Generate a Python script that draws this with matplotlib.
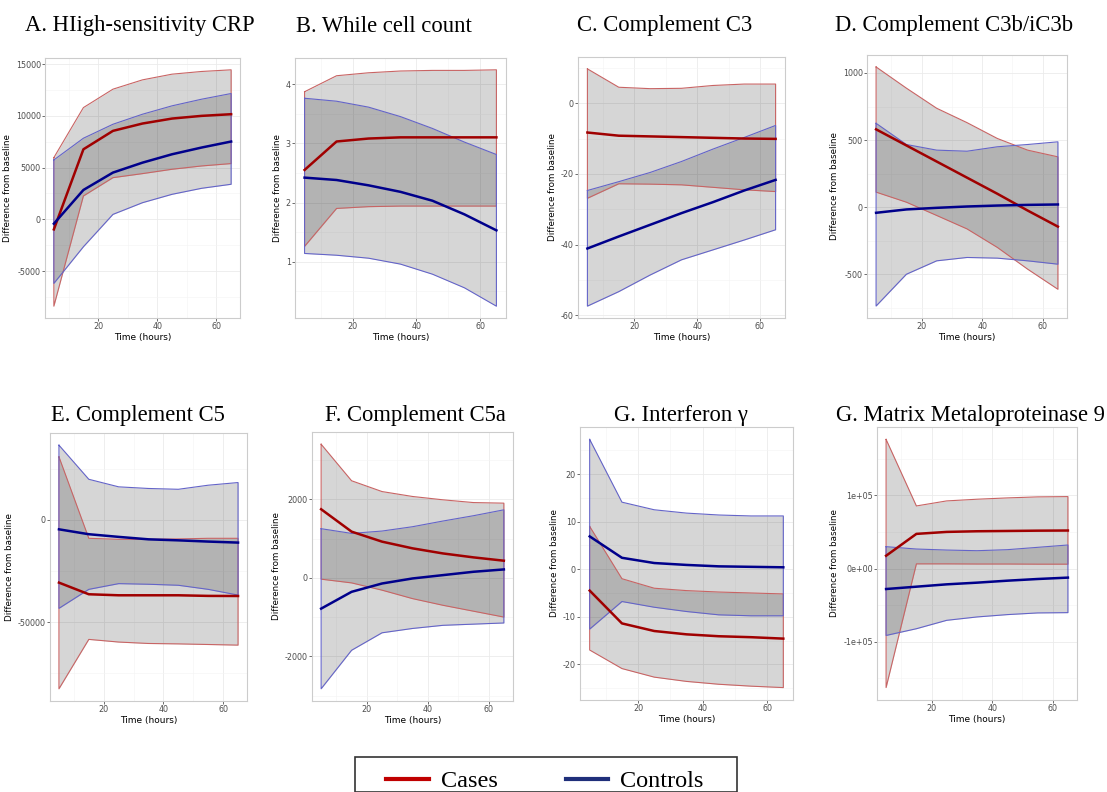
import numpy as np
import matplotlib
matplotlib.use('Agg')
import matplotlib.pyplot as plt
from matplotlib.lines import Line2D
from matplotlib.patches import Rectangle

# time points (hours)
hours = [5, 15, 25, 35, 45, 55, 65]

titles = ['A. HIigh-sensitivity CRP', 'B. While cell count', 'C. Complement C3',
          'D. Complement C3b/iC3b', 'E. Complement C5', 'F. Complement C5a',
          'G. Interferon \u03b3', 'G. Matrix Metaloproteinase 9']

# cases: mean, lower, upper
cases_mean = [
    [-970, 6770, 8550, 9260, 9740, 10000, 10160],
    [2.55, 3.03, 3.08, 3.10, 3.10, 3.10, 3.10],
    [-8.3, -9.2, -9.4, -9.6, -9.8, -10.0, -10.1],
    [580, 460, 340, 220, 100, -25, -145],
    [-30700, -36400, -36900, -36900, -36900, -37200, -37250],
    [1745, 1175, 920, 750, 620, 520, 435],
    [-4.5, -11.4, -13.0, -13.7, -14.1, -14.3, -14.6],
    [17500, 47400, 50100, 51000, 51400, 51800, 52000],
]
cases_low = [
    [-8390, 2260, 4030, 4420, 4840, 5160, 5390],
    [1.26, 1.90, 1.93, 1.94, 1.94, 1.94, 1.94],
    [-26.9, -22.8, -22.9, -23.1, -23.8, -24.5, -25.0],
    [112, 37, -62, -162, -300, -462, -612],
    [-82700, -58500, -59800, -60500, -60700, -61000, -61300],
    [-35, -130, -315, -530, -700, -850, -1000],
    [-17.0, -20.9, -22.7, -23.6, -24.2, -24.6, -24.9],
    [-162800, 6400, 6400, 6200, 6200, 6000, 6000],
]
cases_up = [
    [5970, 10800, 12580, 13480, 14030, 14290, 14450],
    [3.87, 4.14, 4.19, 4.22, 4.23, 4.23, 4.24],
    [9.7, 4.5, 4.1, 4.2, 5.0, 5.4, 5.4],
    [1045, 887, 737, 630, 512, 425, 375],
    [30900, -9000, -9500, -9500, -9300, -9000, -9000],
    [3400, 2470, 2195, 2070, 1985, 1915, 1900],
    [9.0, -2.0, -4.0, -4.5, -4.8, -5.0, -5.2],
    [176600, 85600, 92500, 94800, 96600, 98000, 98400],
]

# controls: mean, lower, upper
controls_mean = [
    [-420, 2840, 4520, 5480, 6290, 6940, 7520],
    [2.42, 2.38, 2.29, 2.18, 2.03, 1.80, 1.53],
    [-41.1, -37.7, -34.4, -31.1, -28.0, -24.7, -21.7],
    [-42, -17, -5, 5, 12, 17, 20],
    [-4600, -7000, -8300, -9500, -10000, -10600, -11100],
    [-785, -357, -145, -17, 68, 153, 213],
    [6.9, 2.4, 1.3, 0.9, 0.6, 0.5, 0.4],
    [-28000, -24800, -21600, -19300, -16600, -14300, -12400],
]
controls_low = [
    [-6190, -2650, 480, 1610, 2420, 3000, 3390],
    [1.14, 1.11, 1.06, 0.96, 0.79, 0.56, 0.25],
    [-57.4, -53.3, -48.6, -44.3, -41.5, -38.7, -35.8],
    [-737, -500, -400, -375, -380, -400, -425],
    [-43300, -34000, -31200, -31500, -32000, -34000, -36800],
    [-2825, -1845, -1400, -1290, -1210, -1180, -1150],
    [-12.6, -6.8, -8.0, -8.9, -9.6, -9.8, -9.8],
    [-91500, -82300, -70800, -66200, -63000, -60700, -60300],
]
controls_up = [
    [5740, 7840, 9190, 10160, 10970, 11610, 12160],
    [3.76, 3.71, 3.61, 3.45, 3.25, 3.02, 2.81],
    [-24.7, -22.2, -19.6, -16.5, -13.0, -9.7, -6.3],
    [625, 467, 425, 417, 450, 467, 487],
    [36600, 19900, 16200, 15400, 15000, 17000, 18300],
    [1250, 1130, 1190, 1300, 1445, 1580, 1730],
    [27.3, 14.1, 12.5, 11.8, 11.4, 11.2, 11.2],
    [29900, 26700, 25300, 24400, 25800, 29000, 32200],
]

y_ticks = [
    [-5000, 0, 5000, 10000, 15000],
    [1, 2, 3, 4],
    [-60, -40, -20, 0],
    [-500, 0, 500, 1000],
    [-50000, 0],
    [-2000, 0, 2000],
    [-20, -10, 0, 10, 20],
    [-100000, 0, 100000],
]
y_ticklabels = [
    ['-5000', '0', '5000', '10000', '15000'],
    ['1', '2', '3', '4'],
    ['-60', '-40', '-20', '0'],
    ['-500', '0', '500', '1000'],
    ['-50000', '0'],
    ['-2000', '0', '2000'],
    ['-20', '-10', '0', '10', '20'],
    ['-1e+05', '0e+00', '1e+05'],
]

# axes boxes in pixels: left, top, right, bottom
boxes = [
    (45, 58, 240, 318), (295, 58, 506, 318), (578, 57, 785, 318), (867, 55, 1067, 318),
    (50, 433, 247, 701), (312, 432, 513, 701), (580, 427, 793, 700), (877, 427, 1077, 700),
]
title_x = [140, 384, 665, 954, 138, 415, 681, 970]
title_y = [26, 26, 26, 26, 415, 415, 415, 415]

W, H = 1107, 792
fig = plt.figure(figsize=(W / 100, H / 100), dpi=100)

red_line = '#a00000'
blue_line = '#00008b'
red_edge = '#c86464'
blue_edge = '#6464c8'

for i in range(8):
    l, t, r, b = boxes[i]
    ax = fig.add_axes([l / W, 1 - b / H, (r - l) / W, (b - t) / H])
    ax.fill_between(hours, cases_low[i], cases_up[i], color='black', alpha=0.16, lw=0)
    ax.fill_between(hours, controls_low[i], controls_up[i], color='black', alpha=0.16, lw=0)
    # ribbon outlines
    xs = hours + hours[::-1] + [hours[0]]
    ys = cases_up[i] + cases_low[i][::-1] + [cases_up[i][0]]
    ax.plot(xs, ys, color=red_edge, lw=0.8)
    ys = controls_up[i] + controls_low[i][::-1] + [controls_up[i][0]]
    ax.plot(xs, ys, color=blue_edge, lw=0.8)
    ax.plot(hours, cases_mean[i], color=red_line, lw=1.8)
    ax.plot(hours, controls_mean[i], color=blue_line, lw=1.8)

    allv = np.array(cases_low[i] + cases_up[i] + controls_low[i] + controls_up[i])
    lo, hi = allv.min(), allv.max()
    pad = (hi - lo) * 0.05
    ax.set_xlim(2, 68)
    ax.set_xticks([20, 40, 60])
    ax.set_xticks([10, 30, 50], minor=True)
    ax.set_yticks(y_ticks[i])
    ax.set_yticklabels(y_ticklabels[i])
    yt = y_ticks[i]
    step = yt[1] - yt[0]
    minor = [v + step / 2 for v in [yt[0] - step] + yt]
    ax.set_yticks(minor, minor=True)
    ax.set_ylim(lo - pad, hi + pad)
    ax.grid(which='major', color='#ebebeb', lw=0.6)
    ax.grid(which='minor', color='#f4f4f4', lw=0.4)
    ax.set_axisbelow(True)
    ax.tick_params(which='major', labelsize=5.8, length=2, width=0.5, color='#333333',
                   labelcolor='#4d4d4d', pad=1)
    ax.tick_params(which='minor', length=0)
    for s in ax.spines.values():
        s.set_color('#cccccc')
        s.set_linewidth(0.8)
    ax.set_xlabel('Time (hours)', fontsize=6.5, labelpad=1)
    ax.set_ylabel('Difference from baseline', fontsize=6.3, labelpad=3)
    fig.text(title_x[i] / W, 1 - title_y[i] / H, titles[i], ha='center', va='center',
             fontsize=16.3, family='Liberation Serif')

# legend box
fig.patches.append(Rectangle((355 / W, 0), (737 - 355) / W, 1 - 757 / H,
                             transform=fig.transFigure, fill=False,
                             edgecolor='#333333', lw=1.2))
handles = [Line2D([], [], color='#c00000', lw=3), Line2D([], [], color='#1f2f7a', lw=3)]
fig.legend(handles, ['Cases', 'Controls'], loc='center left',
           bbox_to_anchor=(386 / W, 1 - 781 / H), ncol=2, frameon=False,
           prop={'family': 'Liberation Serif', 'size': 17.5}, handlelength=1.75,
           handletextpad=0.5, columnspacing=2.8, borderpad=0, borderaxespad=0)

fig.savefig('out.png', dpi=100)
